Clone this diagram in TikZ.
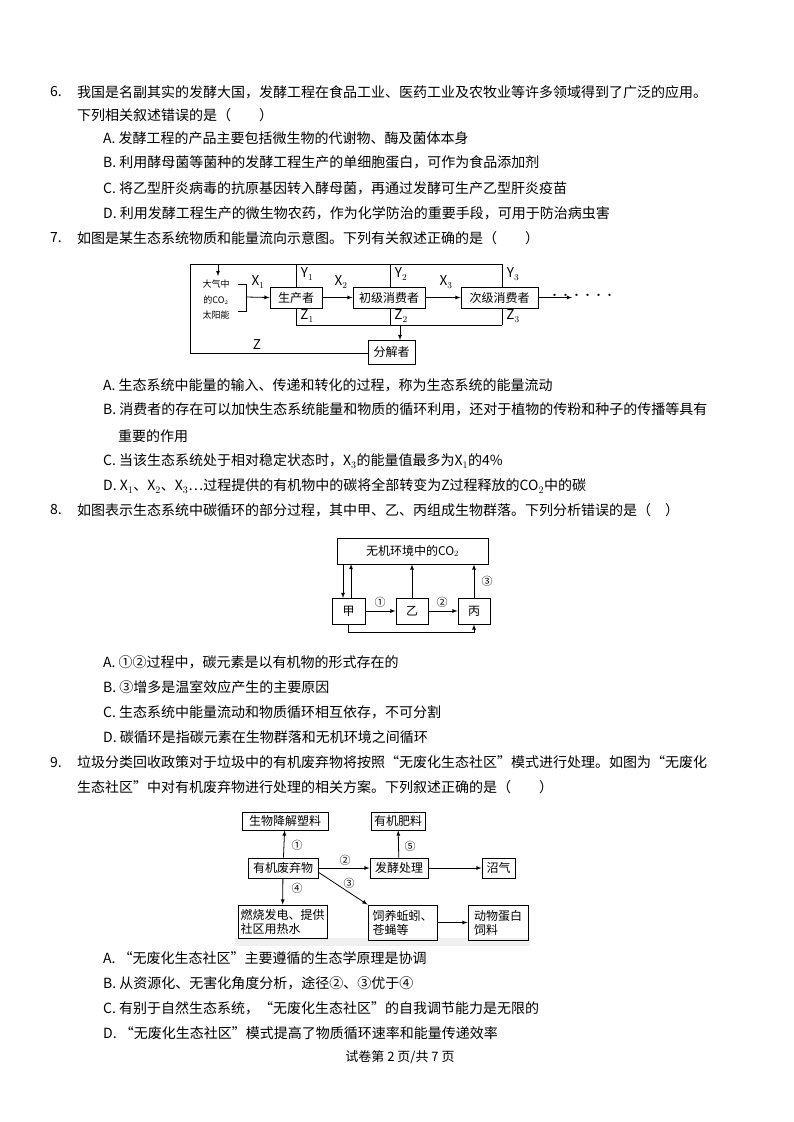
\documentclass[tikz,border=0pt]{standalone}
\usepackage{fontspec}
\setmainfont{Noto Sans CJK SC}
\begin{document}
\begin{tikzpicture}[x=1pt,y=-1pt,
  t/.style={anchor=west,inner sep=0pt,font=\fontsize{14}{16}\selectfont},
  bx/.style={draw,line width=0.9pt,inner sep=0pt,font=\fontsize{12}{14}\selectfont},
  sm/.style={inner sep=0pt,font=\fontsize{11}{13}\selectfont},
  lb/.style={inner sep=0pt,font=\fontsize{13.5}{15}\selectfont},
  ar/.style={-latex,line width=0.8pt},
  ln/.style={line width=0.9pt}]
\useasboundingbox (0,0) rectangle (794,1122);
\fill[white] (0,0) rectangle (794,1122);
% Q6
\node[t] (q6n) at (50,92) {6.};
\node[t] (q6a) at (77,92) {我国是名副其实的发酵大国，发酵工程在食品工业、医药工业及农牧业等许多领域得到了广泛的应用。};
\node[t] (q6b) at (77,115) {下列相关叙述错误的是（　　）};
\node[t] (q6A) at (103,138) {A. 发酵工程的产品主要包括微生物的代谢物、酶及菌体本身};
\node[t] (q6B) at (103,162) {B. 利用酵母菌等菌种的发酵工程生产的单细胞蛋白，可作为食品添加剂};
\node[t] (q6C) at (103,188) {C. 将乙型肝炎病毒的抗原基因转入酵母菌，再通过发酵可生产乙型肝炎疫苗};
\node[t] (q6D) at (103,213) {D. 利用发酵工程生产的微生物农药，作为化学防治的重要手段，可用于防治病虫害};
% Q7
\node[t] (q7n) at (50,238) {7.};
\node[t] (q7a) at (77,238) {如图是某生态系统物质和能量流向示意图。下列有关叙述正确的是（　　）};
% diagram 1
\node[bx,minimum width=52pt,minimum height=21pt] (p) at (296,297.5) {生产者};
\node[bx,minimum width=72pt,minimum height=21pt] (c1) at (389,297.5) {初级消费者};
\node[bx,minimum width=77pt,minimum height=21pt] (c2) at (499.5,297.5) {次级消费者};
\node[bx,minimum width=47pt,minimum height=24pt] (d) at (391.5,352) {分解者};
\node[sm,align=center,font=\fontsize{9}{15.5}\selectfont] (atm) at (216,300) {大气中\\的CO$_2$\\太阳能};
\coordinate (tl) at (190,264);
\coordinate (tr) at (502,264);
\draw[ln] (d.west |- 0,353) -- (190,353) -- (tl) -- (tr);
\draw[ar] (218,264) -- (218,276);
\draw[ln] (238,284) -- (246,284) -- (246,311) -- (238,311);
\draw[ar] (246,297) -- (p.west);
\draw[ar] (p) -- (c1);
\draw[ar] (c1) -- (c2);
\draw[ar] (c2.east) -- (572,297.5);
\node[sm] (dots) at (582,297) {······};
\foreach \x in {296,390,502}{\draw[ln] (\x,264) -- (\x,287); \draw[ln] (\x,308) -- (\x,325);}
\draw[ln] (296,325) -- (502,325);
\draw[ar] (400,325) -- (400,340);
\node[lb] (x1) at (258,282) {X$_1$};
\node[lb] (x2) at (341,282) {X$_2$};
\node[lb] (x3) at (446,282) {X$_3$};
\node[lb] (y1) at (307,274) {Y$_1$};
\node[lb] (y2) at (401,274) {Y$_2$};
\node[lb] (y3) at (513,274) {Y$_3$};
\node[lb] (z1) at (307,316) {Z$_1$};
\node[lb] (z2) at (401,316) {Z$_2$};
\node[lb] (z3) at (513,316) {Z$_3$};
\node[lb] (zz) at (257,345) {Z};
\node[t] (q7A) at (103,385) {A. 生态系统中能量的输入、传递和转化的过程，称为生态系统的能量流动};
\node[t] (q7B) at (103,409) {B. 消费者的存在可以加快生态系统能量和物质的循环利用，还对于植物的传粉和种子的传播等具有};
\node[t] (q7B2) at (118,436) {重要的作用};
\node[t] (q7C) at (103,461) {C. 当该生态系统处于相对稳定状态时，X$_3$的能量值最多为X$_1$的4\%};
\node[t] (q7D) at (103,486) {D. X$_1$、X$_2$、X$_3$…过程提供的有机物中的碳将全部转变为Z过程释放的CO$_2$中的碳};
% Q8
\node[t] (q8n) at (50,510) {8.};
\node[t] (q8a) at (77,510) {如图表示生态系统中碳循环的部分过程，其中甲、乙、丙组成生物群落。下列分析错误的是（　）};
\node[bx,minimum width=151pt,minimum height=26pt] (env) at (412.5,551) {无机环境中的CO$_2$};
\node[bx,minimum width=33pt,minimum height=26pt] (jia) at (348.5,611) {甲};
\node[bx,minimum width=32pt,minimum height=26pt] (yi) at (412,611) {乙};
\node[bx,minimum width=32pt,minimum height=26pt] (bing) at (474,611) {丙};
\draw[ar] (343,564) -- (343,598);
\draw[ar] (351,598) -- (351,564);
\draw[ar] (yi) -- (yi |- env.south);
\draw[ar] (bing) -- (bing |- env.south);
\draw[ar] (jia) -- (yi);
\draw[ar] (yi) -- (bing);
\draw[ar] (jia.south) -- (348.5,632) -- (474,632) -- (bing.south);
\node[sm] (c1n) at (380,602) {①};
\node[sm] (c2n) at (442,602) {②};
\node[sm] (c3n) at (487,581) {③};
\node[t] (q8A) at (103,662) {A. ①②过程中，碳元素是以有机物的形式存在的};
\node[t] (q8B) at (103,687) {B. ③增多是温室效应产生的主要原因};
\node[t] (q8C) at (103,712) {C. 生态系统中能量流动和物质循环相互依存，不可分割};
\node[t] (q8D) at (103,737) {D. 碳循环是指碳元素在生物群落和无机环境之间循环};
% Q9
\node[t] (q9n) at (50,762) {9.};
\node[t] (q9a) at (77,762) {垃圾分类回收政策对于垃圾中的有机废弃物将按照“无废化生态社区”模式进行处理。如图为“无废化};
\node[t] (q9b) at (77,787) {生态社区”中对有机废弃物进行处理的相关方案。下列叙述正确的是（　　）};
\fill[black!6] (235,938) rectangle (530,946);
\node[bx,minimum width=86pt,minimum height=18pt] (bio) at (285,821) {生物降解塑料};
\node[bx,minimum width=54pt,minimum height=18pt] (fer) at (398,821) {有机肥料};
\node[bx,minimum width=70pt,minimum height=20pt] (waste) at (283,868) {有机废弃物};
\node[bx,minimum width=58pt,minimum height=20pt] (proc) at (399,868) {发酵处理};
\node[bx,minimum width=33pt,minimum height=20pt] (gas) at (498.5,868) {沼气};
\node[bx,minimum width=89pt,minimum height=33pt,align=left] (burn) at (282.5,921.5) {燃烧发电、提供\\社区用热水};
\node[bx,minimum width=69pt,minimum height=35pt,align=left] (feed) at (402.5,922.5) {饲养蚯蚓、\\苍蝇等};
\node[bx,minimum width=60pt,minimum height=35pt,align=left] (prot) at (498,922.5) {动物蛋白\\饲料};
\draw[ar] (waste) -- (bio);
\draw[ar] (waste) -- (proc);
\draw[ar] (proc) -- (gas);
\draw[ar] (proc) -- (fer);
\draw[ar] (waste) -- (burn);
\draw[ar] (318,872) -- (feed.north west);
\draw[ar] (feed) -- (prot);
\node[sm] (n1) at (297,845) {①};
\node[sm] (n2) at (345,860) {②};
\node[sm] (n3) at (349,883) {③};
\node[sm] (n4) at (297,888) {④};
\node[sm] (n5) at (410,846) {⑤};
\node[t] (q9A) at (103,958) {A. “无废化生态社区”主要遵循的生态学原理是协调};
\node[t] (q9B) at (103,983) {B. 从资源化、无害化角度分析，途径②、③优于④};
\node[t] (q9C) at (103,1008) {C. 有别于自然生态系统，“无废化生态社区”的自我调节能力是无限的};
\node[t] (q9D) at (103,1033) {D. “无废化生态社区”模式提高了物质循环速率和能量传递效率};
\node[inner sep=0pt,font=\fontsize{13}{15}\selectfont] (foot) at (400,1057) {试卷第 2 页/共 7 页};
\end{tikzpicture}
\end{document}
